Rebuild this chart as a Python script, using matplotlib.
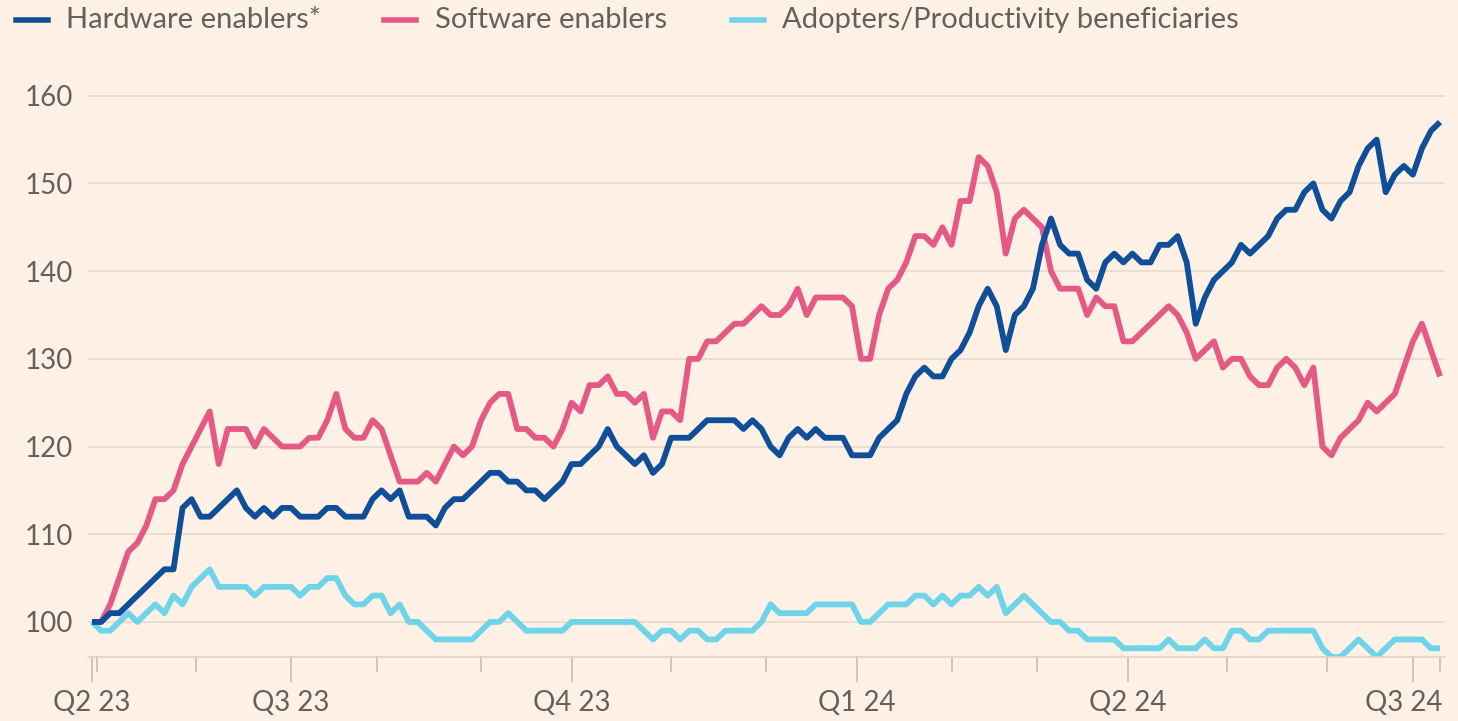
import numpy as np
import matplotlib.pyplot as plt
from matplotlib.lines import Line2D
from matplotlib.transforms import ScaledTranslation

days = np.arange(0, 299, 2)

hardware = [100, 100, 101, 101, 102, 103, 104, 105, 106, 106,
            113, 114, 112, 112, 113, 114, 115, 113, 112, 113,
            112, 113, 113, 112, 112, 112, 113, 113, 112, 112,
            112, 114, 115, 114, 115, 112, 112, 112, 111, 113,
            114, 114, 115, 116, 117, 117, 116, 116, 115, 115,
            114, 115, 116, 118, 118, 119, 120, 122, 120, 119,
            118, 119, 117, 118, 121, 121, 121, 122, 123, 123,
            123, 123, 122, 123, 122, 120, 119, 121, 122, 121,
            122, 121, 121, 121, 119, 119, 119, 121, 122, 123,
            126, 128, 129, 128, 128, 130, 131, 133, 136, 138,
            136, 131, 135, 136, 138, 143, 146, 143, 142, 142,
            139, 138, 141, 142, 141, 142, 141, 141, 143, 143,
            144, 141, 134, 137, 139, 140, 141, 143, 142, 143,
            144, 146, 147, 147, 149, 150, 147, 146, 148, 149,
            152, 154, 155, 149, 151, 152, 151, 154, 156, 157]

software = [100, 100, 102, 105, 108, 109, 111, 114, 114, 115,
            118, 120, 122, 124, 118, 122, 122, 122, 120, 122,
            121, 120, 120, 120, 121, 121, 123, 126, 122, 121,
            121, 123, 122, 119, 116, 116, 116, 117, 116, 118,
            120, 119, 120, 123, 125, 126, 126, 122, 122, 121,
            121, 120, 122, 125, 124, 127, 127, 128, 126, 126,
            125, 126, 121, 124, 124, 123, 130, 130, 132, 132,
            133, 134, 134, 135, 136, 135, 135, 136, 138, 135,
            137, 137, 137, 137, 136, 130, 130, 135, 138, 139,
            141, 144, 144, 143, 145, 143, 148, 148, 153, 152,
            149, 142, 146, 147, 146, 145, 140, 138, 138, 138,
            135, 137, 136, 136, 132, 132, 133, 134, 135, 136,
            135, 133, 130, 131, 132, 129, 130, 130, 128, 127,
            127, 129, 130, 129, 127, 129, 120, 119, 121, 122,
            123, 125, 124, 125, 126, 129, 132, 134, 131, 128]

adopters = [100, 99, 99, 100, 101, 100, 101, 102, 101, 103,
            102, 104, 105, 106, 104, 104, 104, 104, 103, 104,
            104, 104, 104, 103, 104, 104, 105, 105, 103, 102,
            102, 103, 103, 101, 102, 100, 100, 99, 98, 98,
            98, 98, 98, 99, 100, 100, 101, 100, 99, 99,
            99, 99, 99, 100, 100, 100, 100, 100, 100, 100,
            100, 99, 98, 99, 99, 98, 99, 99, 98, 98,
            99, 99, 99, 99, 100, 102, 101, 101, 101, 101,
            102, 102, 102, 102, 102, 100, 100, 101, 102, 102,
            102, 103, 103, 102, 103, 102, 103, 103, 104, 103,
            104, 101, 102, 103, 102, 101, 100, 100, 99, 99,
            98, 98, 98, 98, 97, 97, 97, 97, 97, 98,
            97, 97, 97, 98, 97, 97, 99, 99, 98, 98,
            99, 99, 99, 99, 99, 99, 97, 96, 96, 97,
            98, 97, 96, 97, 98, 98, 98, 98, 97, 97]

names = ['Hardware enablers*', 'Software enablers', 'Adopters/Productivity beneficiaries']
colors = ['#0f4f99', '#e55a85', '#6fd4e8']

quarter_pos = [0, 44, 106, 169, 229, 292]
quarter_labels = ['Q2 23', 'Q3 23', 'Q4 23', 'Q1 24', 'Q2 24', 'Q3 24']
month_pos = [1, 23, 63, 86, 128, 149, 190, 209, 251, 273, 298]
y_ticks = [100, 110, 120, 130, 140, 150, 160]

bg = '#fff1e5'
grey = '#66605c'
plt.rcParams['font.family'] = ['Lato', 'DejaVu Sans']

W, H = 1458, 721
fig = plt.figure(figsize=(W / 100, H / 100), dpi=100, facecolor=bg)
ax = fig.add_axes([88 / W, 1 - 657 / H, (1445 - 88) / W, (657 - 87) / H])
ax.set_facecolor(bg)

for vals, c in zip([adopters, software, hardware], colors[::-1]):
    ax.plot(days, vals, color=c, lw=4.2, solid_joinstyle='round', solid_capstyle='butt')

ax.set_xlim(-0.9, 299.1)
ax.set_ylim(96, 161)

ax.set_yticks(y_ticks)
ax.yaxis.grid(True, color='#e8dacd', lw=1.2)
ax.set_axisbelow(True)
ax.tick_params(axis='y', length=0, pad=11, labelsize=20, labelcolor=grey)

ax.set_xticks(quarter_pos)
ax.set_xticklabels(quarter_labels)
ax.set_xticks(month_pos, minor=True)
ax.tick_params(axis='x', which='major', length=18, width=1.2, color='#c9bdb3',
               pad=6, labelsize=20, labelcolor=grey)
ax.tick_params(axis='x', which='minor', length=11, width=1.2, color='#c9bdb3')
last = ax.get_xticklabels()[-1]
last.set_transform(last.get_transform() + ScaledTranslation(-0.09, 0, fig.dpi_scale_trans))

for s in ['top', 'right', 'left']:
    ax.spines[s].set_visible(False)
ax.spines['bottom'].set_color('#e0d2c6')
ax.spines['bottom'].set_linewidth(1.2)

# legend row across the top
legend_x = [(16, 66), (384, 435), (732, 782)]
for (hx, tx), name, c in zip(legend_x, names, colors):
    fig.add_artist(Line2D([hx / W, (hx + 32) / W], [1 - 20 / H] * 2,
                          transform=fig.transFigure, color=c, lw=4))
    fig.text(tx / W, 1 - 20 / H, name, fontsize=21, color=grey, va='center', ha='left')

fig.savefig('out.png', dpi=100, facecolor=bg)
